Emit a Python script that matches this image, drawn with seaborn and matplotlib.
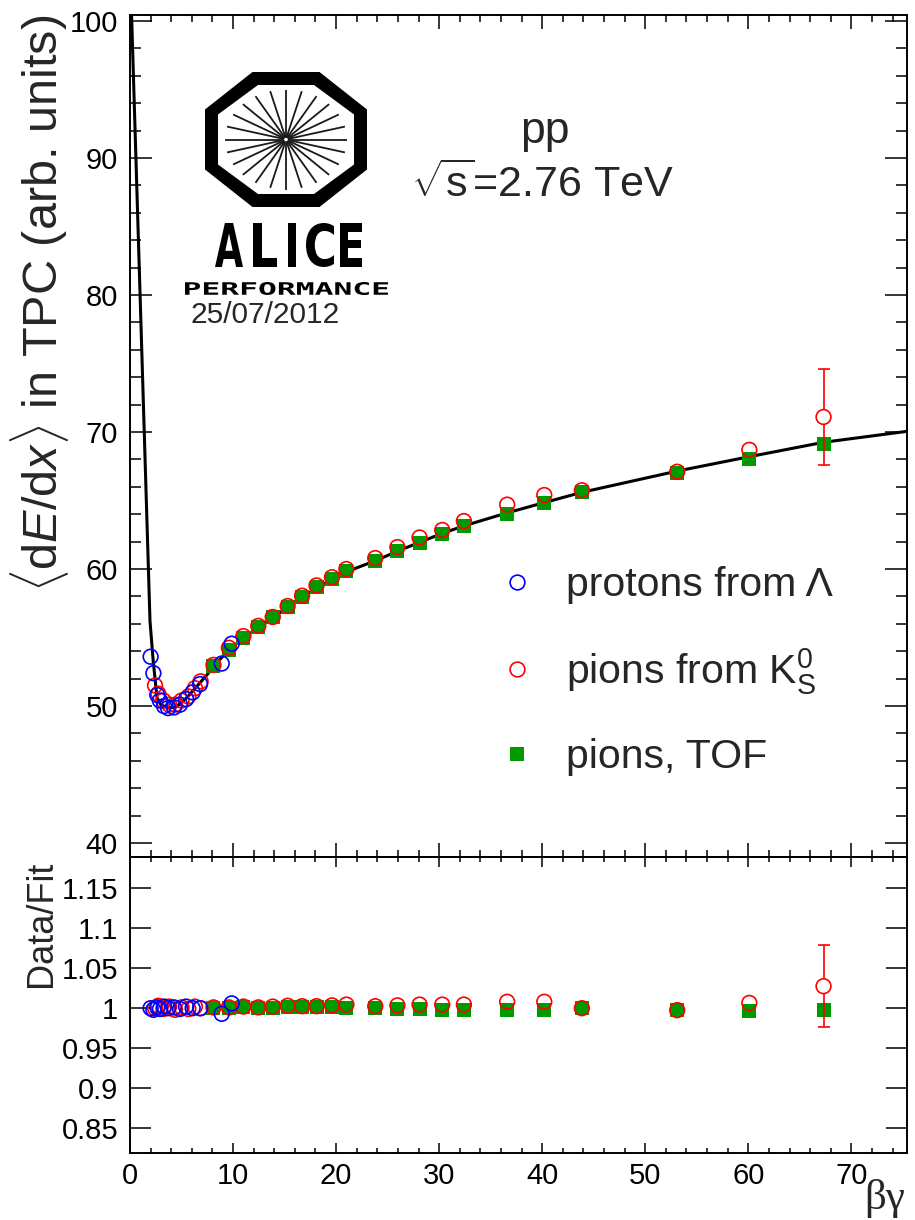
import numpy as np
import pandas as pd
import matplotlib
matplotlib.use("Agg")
import matplotlib.pyplot as plt
import seaborn as sns
from matplotlib.lines import Line2D
from matplotlib.patches import Polygon, PathPatch
from matplotlib.textpath import TextPath
from matplotlib.font_manager import FontProperties
from matplotlib.transforms import Affine2D

# ---------------- data ----------------
# Bethe-Bloch fit curve (beta*gamma, <dE/dx>)
fit_bg = [0.11, 1.94, 2.25, 2.62, 3.0, 3.7, 4.5, 5.5, 7.5, 8.1, 9.6, 11.0, 12.45,
          13.85, 15.3, 16.7, 18.1, 19.6, 21.0, 23.8, 25.95, 28.1, 30.3, 32.4,
          36.6, 40.2, 43.85, 53.1, 60.1, 67.3, 75.4]
fit_dedx = [101.5, 56.2, 53.3, 50.6, 50.1, 49.85, 49.95, 50.6, 52.3, 52.9, 54.1,
            54.95, 55.7, 56.45, 57.2, 57.95, 58.6, 59.25, 59.8, 60.6, 61.3, 61.95,
            62.6, 63.15, 64.1, 64.85, 65.6, 67.15, 68.2, 69.25, 70.05]

# protons from Lambda decays
p_bg = [2.0, 2.27, 2.65, 2.9, 3.3, 3.7, 4.27, 4.85, 5.44, 6.08, 6.8, 8.9, 9.87]
p_dedx = [53.6, 52.4, 50.8, 50.4, 50.0, 49.85, 49.9, 50.1, 50.5, 51.0, 51.6, 53.1, 54.55]
p_ratio = [1.0, 0.998, 1.001, 0.999, 1.002, 1.0, 1.001, 0.999, 1.002, 1.0, 1.0, 0.993, 1.006]

# pions from K0s decays
k_bg = [2.43, 2.75, 3.24, 3.8, 4.37, 5.0, 5.66, 6.3, 6.85, 8.1, 9.6, 11.0, 12.45,
        13.85, 15.3, 16.7, 18.1, 19.6, 21.0, 23.8, 25.95, 28.1, 30.3, 32.4,
        36.6, 40.2, 43.85, 53.1, 60.1, 67.3]
k_dedx = [51.5, 50.9, 50.4, 50.1, 50.1, 50.4, 50.7, 51.3, 51.8, 53.0, 54.25, 55.1,
          55.85, 56.5, 57.3, 58.05, 58.8, 59.4, 60.0, 60.8, 61.6, 62.3, 62.85, 63.5,
          64.7, 65.4, 65.75, 67.1, 68.7, 71.1]
k_dedx_err = [0.0] * 29 + [3.5]
k_ratio = [1.0, 1.003, 0.999, 1.002, 0.998, 1.001, 0.999, 1.002, 1.0, 1.001, 1.001,
           1.002, 1.001, 1.002, 1.003, 1.0025, 1.0025, 1.0035, 1.0045, 1.0025, 1.0035,
           1.0045, 1.0045, 1.0045, 1.008, 1.008, 1.0, 0.9975, 1.0066, 1.0275]
k_ratio_err = [0.0] * 29 + [0.051]

# pions identified with TOF
t_bg = [8.1, 9.6, 11.0, 12.45, 13.85, 15.3, 16.7, 18.1, 19.6, 21.0, 23.8, 25.95,
        28.1, 30.3, 32.4, 36.6, 40.2, 43.85, 53.1, 60.1, 67.3]
t_dedx = [52.93, 54.1, 54.96, 55.74, 56.47, 57.25, 57.99, 58.67, 59.28, 59.84, 60.62,
          61.3, 61.89, 62.58, 63.11, 64.04, 64.82, 65.63, 67.02, 68.0, 69.1]
t_ratio = [1.0, 1.0, 1.001, 1.0, 1.0, 1.001, 1.001, 1.001, 1.001, 1.0005, 1.0, 0.9985,
           0.9985, 0.9975, 0.9975, 0.9975, 0.998, 1.0, 0.9975, 0.9967, 0.998]

x_ticks = [0, 10, 20, 30, 40, 50, 60, 70]
top_yticks = [40, 50, 60, 70, 80, 90, 100]
bot_yticks = [0.85, 0.9, 0.95, 1.0, 1.05, 1.1, 1.15]
bot_yticklabels = ["0.85", "0.9", "0.95", "1", "1.05", "1.1", "1.15"]

# ---------------- style ----------------
sns.set_style("ticks")
plt.rcParams.update({
    "font.family": ["Liberation Sans", "DejaVu Sans"],
    "mathtext.fontset": "custom",
    "mathtext.rm": "Liberation Sans",
    "mathtext.it": "Liberation Sans:italic",
    "mathtext.bf": "Liberation Sans:bold",
    "mathtext.fallback": "cm",
    "axes.linewidth": 1.4,
    "axes.edgecolor": "black",
    "xtick.direction": "in",
    "ytick.direction": "in",
    "xtick.color": "black",
    "ytick.color": "black",
})

RED = "#ff0000"
BLUE = "#0000ff"
GREEN = "#009900"

fig = plt.figure(figsize=(9.15, 12.2), dpi=100)
W, H = 915.0, 1220.0


def fig_box(x0, y0, x1, y1):
    return [x0 / W, 1 - y1 / H, (x1 - x0) / W, (y1 - y0) / H]


ax = fig.add_axes(fig_box(130, 15, 907, 857))
axr = fig.add_axes(fig_box(130, 857, 907, 1153))

tof = pd.DataFrame({"bg": t_bg, "dedx": t_dedx, "ratio": t_ratio})
kz = pd.DataFrame({"bg": k_bg, "dedx": k_dedx, "ratio": k_ratio,
                   "err": k_dedx_err, "rerr": k_ratio_err})
lam = pd.DataFrame({"bg": p_bg, "dedx": p_dedx, "ratio": p_ratio})
fit = pd.DataFrame({"bg": fit_bg, "dedx": fit_dedx})

SQ = 10.0   # square side, pt
CI = 10.6   # circle diameter, pt


def open_circles(axis, df, ycol, color):
    sns.scatterplot(data=df, x="bg", y=ycol, marker="o", s=CI ** 2,
                    linewidth=1.2, edgecolor=color, ax=axis, zorder=4, legend=False)
    coll = axis.collections[-1]
    coll.set_facecolor("none")
    coll.set_edgecolor(color)


def squares(axis, df, ycol):
    sns.scatterplot(data=df, x="bg", y=ycol, marker="s", s=SQ ** 2, color=GREEN,
                    linewidth=0, ax=axis, zorder=3, legend=False)


def error_bars(axis, df, ycol, ecol, color):
    sel = df[df[ecol] > 0]
    axis.figure.canvas.draw()
    inv = axis.transData.inverted()
    for _, r in sel.iterrows():
        px = axis.transData.transform((r["bg"], r[ycol]))
        rad = CI / 2 * 100 / 72
        gap = abs(inv.transform((px[0], px[1] + rad))[1] - r[ycol])
        axis.vlines(r["bg"], r[ycol] + gap, r[ycol] + r[ecol], color=color, lw=1.2, zorder=4)
        axis.vlines(r["bg"], r[ycol] - r[ecol], r[ycol] - gap, color=color, lw=1.2, zorder=4)
        axis.errorbar(r["bg"], r[ycol], yerr=r[ecol], fmt="none", ecolor=color,
                      elinewidth=0, capsize=4, capthick=1.2, zorder=4)


# ---------------- top panel ----------------
sns.lineplot(data=fit, x="bg", y="dedx", sort=False, estimator=None, color="black",
             linewidth=2.2, ax=ax, zorder=2)
squares(ax, tof, "dedx")
open_circles(ax, kz, "dedx", RED)
open_circles(ax, lam, "dedx", BLUE)

ax.set_xlim(0, 75.4)
ax.set_ylim(38.98, 100.44)
ax.set_xticks(x_ticks)
ax.set_xticks(np.arange(0, 76, 2), minor=True)
ax.set_yticks(top_yticks)
ax.set_yticks(np.arange(40, 101, 2), minor=True)
ax.tick_params(axis="x", which="major", length=10, width=1.1, labelbottom=False,
               top=True, bottom=True)
ax.tick_params(axis="x", which="minor", length=5, width=1.1, top=True, bottom=True)
ax.tick_params(axis="y", which="major", length=15.8, width=1.1, labelsize=21, pad=8.6,
               left=True, right=True)
ax.tick_params(axis="y", which="minor", length=7.9, width=1.1, left=True, right=True)
ax.set_xlabel("")
ax.set_ylabel("")
for s in ax.spines.values():
    s.set_visible(True)

# ---------------- ratio panel ----------------
squares(axr, tof, "ratio")
open_circles(axr, kz, "ratio", RED)
open_circles(axr, lam, "ratio", BLUE)
axr.set_xlim(0, 75.4)
axr.set_ylim(0.819, 1.189)
axr.set_xticks(x_ticks)
axr.set_xticks(np.arange(0, 76, 2), minor=True)
axr.set_yticks(bot_yticks)
axr.set_yticklabels(bot_yticklabels)
axr.tick_params(axis="x", which="major", length=7.2, width=1.1, labelsize=21, pad=6.5,
                top=True, bottom=True)
axr.tick_params(axis="x", which="minor", length=3.6, width=1.1, top=True, bottom=True)
axr.tick_params(axis="y", which="major", length=15, width=1.1, labelsize=21, pad=8.6,
                left=True, right=True)
axr.set_xlabel("")
axr.set_ylabel("")
for s in axr.spines.values():
    s.set_visible(True)

error_bars(ax, kz, "dedx", "err", RED)
error_bars(axr, kz, "ratio", "rerr", RED)

# ---------------- axis titles ----------------
fig.text(40 / W, 1 - 15 / H, r"$\langle$d$E$/d$x\rangle$ in TPC (arb. units)",
         rotation=90, ha="center", va="top", fontsize=35)
fig.text(42 / W, 1 - 861 / H, "Data/Fit", rotation=90, ha="center", va="top",
         fontsize=26)
fig.text(905 / W, 1 - 1218 / H, "βγ", ha="right", va="bottom", fontsize=31,
         family=["Liberation Serif", "DejaVu Serif"])

# ---------------- legend ----------------
handles = [
    Line2D([], [], ls="none", marker="o", ms=CI, mfc="none", mec=BLUE, mew=1.2),
    Line2D([], [], ls="none", marker="o", ms=CI, mfc="none", mec=RED, mew=1.2),
    Line2D([], [], ls="none", marker="s", ms=SQ, mfc=GREEN, mec=GREEN, mew=0),
]
labels = ["protons from Λ", "pions from K$^{0}_{\\mathrm{S}}$", "pions, TOF"]
ax.legend(handles, labels, loc="upper left", bbox_to_anchor=(497 / W, 1 - 566 / H),
          bbox_transform=fig.transFigure, frameon=False, fontsize=29.5,
          handlelength=1.0, handletextpad=0.69, labelspacing=1.02, borderpad=0,
          borderaxespad=0)

# ---------------- annotations ----------------
fig.text(545 / W, 1 - 143 / H, "pp", ha="center", va="baseline", fontsize=32)
fig.text(542 / W, 1 - 197 / H, r"$\sqrt{\mathrm{s}}$=2.76 TeV", ha="center",
         va="baseline", fontsize=31)
fig.text(190 / W, 1 - 323 / H, "25/07/2012", ha="left", va="baseline", fontsize=21.5)

# ---------------- ALICE performance logo ----------------
logo = fig.add_axes(fig_box(180, 65, 400, 335))
logo.set_xlim(180, 400)
logo.set_ylim(335, 65)
logo.axis("off")

cx, cy = 286.0, 139.5


def octagon(a, b, ht, hs):
    return [(cx - ht, cy - b), (cx + ht, cy - b), (cx + a, cy - hs), (cx + a, cy + hs),
            (cx + ht, cy + b), (cx - ht, cy + b), (cx - a, cy + hs), (cx - a, cy - hs)]


logo.add_patch(Polygon(octagon(81, 67.5, 33.5, 30), closed=True, fc="black", ec="none"))
logo.add_patch(Polygon(octagon(68, 54.5, 28, 25), closed=True, fc="white", ec="none"))
n_spokes = 24
for k in range(n_spokes):
    ang = np.pi * k / (n_spokes / 2)
    logo.plot([cx + 2 * np.cos(ang), cx + 61 * np.cos(ang)],
              [cy + 2 * np.sin(ang), cy + 50 * np.sin(ang)],
              color="#1a1a1a", lw=1.3, solid_capstyle="butt")


def boxed_text(text, x0, x1, ytop, ybot, prop):
    path = TextPath((0, 0), text, size=10, prop=prop)
    ext = path.get_extents()
    tr = (Affine2D().translate(-ext.x0, -ext.y0)
          .scale((x1 - x0) / ext.width, -(ybot - ytop) / ext.height)
          .translate(x0, ybot))
    logo.add_patch(PathPatch(tr.transform_path(path), fc="black", ec="none"))


bold = FontProperties(family="DejaVu Sans", weight="bold")
for ch, (x0, x1) in zip("ALICE", [(215, 243), (253, 277), (288, 296), (306, 334), (340, 362)]):
    boxed_text(ch, x0, x1, 223, 267, bold)
boxed_text("PERFORMANCE", 185, 388, 282, 295,
           FontProperties(family="DejaVu Sans Mono", weight="bold"))

fig.savefig("out.png", dpi=100)
